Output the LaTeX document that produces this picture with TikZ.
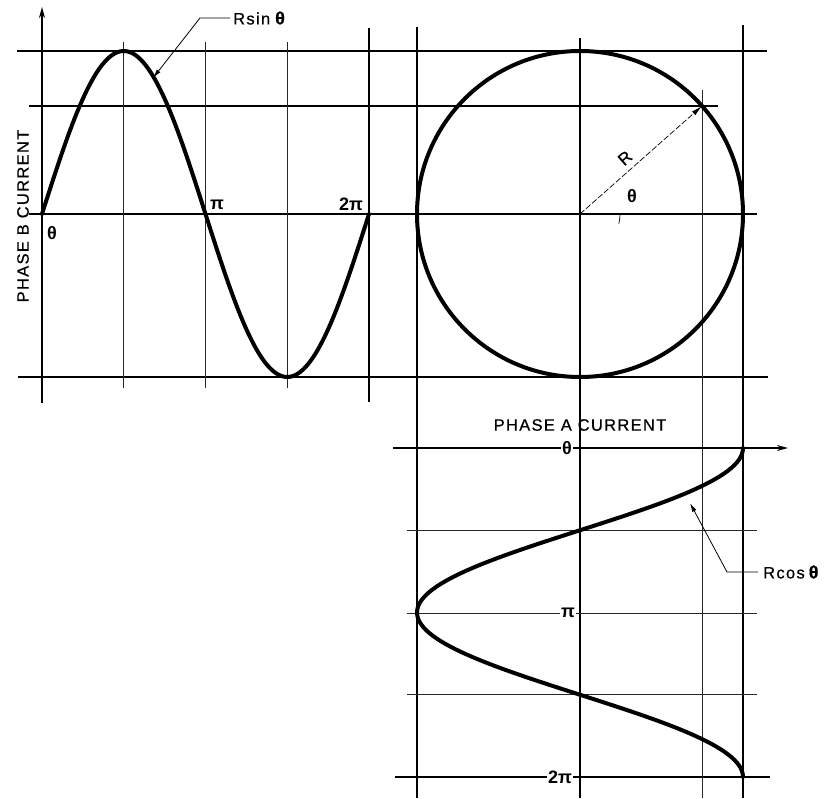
\documentclass[tikz,border=0pt]{standalone}
\usepackage{fontspec}
\setmainfont{Liberation Sans}
\usetikzlibrary{arrows.meta}
\begin{document}
\begin{tikzpicture}[x=1pt,y=-1pt,
  gthick/.style={line width=1.5pt},
  gmid/.style={line width=1.1pt},
  gthin/.style={line width=0.7pt, black!85},
  wave/.style={line width=4pt, line join=round, line cap=round},
  lbl/.style={font=\fontsize{16.5}{18}\selectfont\addfontfeatures{LetterSpace=8,FakeBold=0.6}, inner sep=0pt},
  glab/.style={font=\fontsize{18}{19}\selectfont\bfseries, inner sep=1pt},
  onaxis/.style={glab, fill=white, inner sep=1.5pt},
  leader/.style={line width=0.8pt, -{Latex[length=9pt,width=4.5pt]}},
  axisarrow/.style={line width=1.6pt, -{Stealth[length=11pt,width=6pt]}}
]
\useasboundingbox (0,0) rectangle (824,798);

% ---------- top sine plot grid ----------
\draw[gthick] (17,51) -- (767,51);
\draw[gmid] (29,106) -- (718,106);
\draw[gthick] (29,214) -- (757,214);
\draw[gthick] (18,377) -- (768,377);

\draw[axisarrow] (42,403) -- (42,7);
\draw[gthin] (123.5,42) -- (123.5,388);
\draw[gthin] (205,42) -- (205,388);
\draw[gthin] (287,42) -- (287,388);
\draw[gthick] (369,28) -- (369,402);

% ---------- vertical lines through circle and cosine plot ----------
\draw[gthick] (417,27) -- (417,798);
\draw[gthick] (580,38) -- (580,798);
\draw[gthin] (702,90) -- (702,798);
\draw[gthick] (743,25) -- (743,798);

% ---------- cosine plot grid ----------
\draw[axisarrow] (393,448) -- (788,448);
\draw[gthin] (407,530) -- (757,530);
\draw[gthin] (407,613) -- (757,613);
\draw[gthin] (407,694) -- (757,694);
\draw[gthick] (395,777) -- (770,777);

% ---------- curves ----------
\draw[wave] plot[domain=0:360, samples=120, smooth] ({42+\x*0.90833}, {214-163*sin(\x)});
\draw[wave] (580,214) circle[radius=163];
\draw[wave] plot[domain=0:360, samples=120, smooth] ({580+163*cos(\x)}, {448+\x*0.91389});

% ---------- radius vector ----------
\coordinate (O) at (580,214);
\coordinate (P) at (702,106);
\draw[line width=0.7pt, dash pattern=on 6pt off 2pt, -{Latex[length=11pt,width=5pt]}] (O) -- (P);
\draw[line width=0.7pt] (620,214) arc[start angle=0, end angle=14, radius=40];
\node[font=\fontsize{17}{18}\selectfont\addfontfeatures{FakeBold=0.6}, rotate=41.5, inner sep=0pt] (Rl) at (625,158) {R};
\node[glab] (thc) at (632,196) {θ};

% ---------- sine labels ----------
\node[glab] (th0) at (52,233) {θ};
\node[glab] (pi1) at (217,205) {π};
\node[glab] (pi2) at (351,204) {2π};
\node[lbl, rotate=90] (pb) at (23,216) {PHASE B CURRENT};

\node[lbl, anchor=west] (rsin) at (233,18) {Rsin\hspace{5pt}{\fontsize{18}{19}\selectfont\bfseries θ}};
\coordinate (rs1) at (200,18);
\coordinate (rs2) at (153,78);
\draw[leader] (rsin.west) ++(-3,0) -- (rs1) -- (rs2);

% ---------- cosine labels ----------
\node[lbl] (pa) at (580,425) {PHASE A CURRENT};
\node[onaxis] (ct0) at (567,448) {θ};
\node[onaxis] (ct1) at (568,613) {π};
\node[onaxis] (ct2) at (560,777) {2π};

\node[lbl, anchor=west] (rcos) at (763,572) {Rcos\hspace{4pt}{\fontsize{18}{19}\selectfont\bfseries θ}};
\coordinate (rc1) at (727,572);
\coordinate (rc2) at (690,503);
\draw[leader] (rcos.west) ++(-5,0) -- (rc1) -- (rc2);
\end{tikzpicture}
\end{document}
